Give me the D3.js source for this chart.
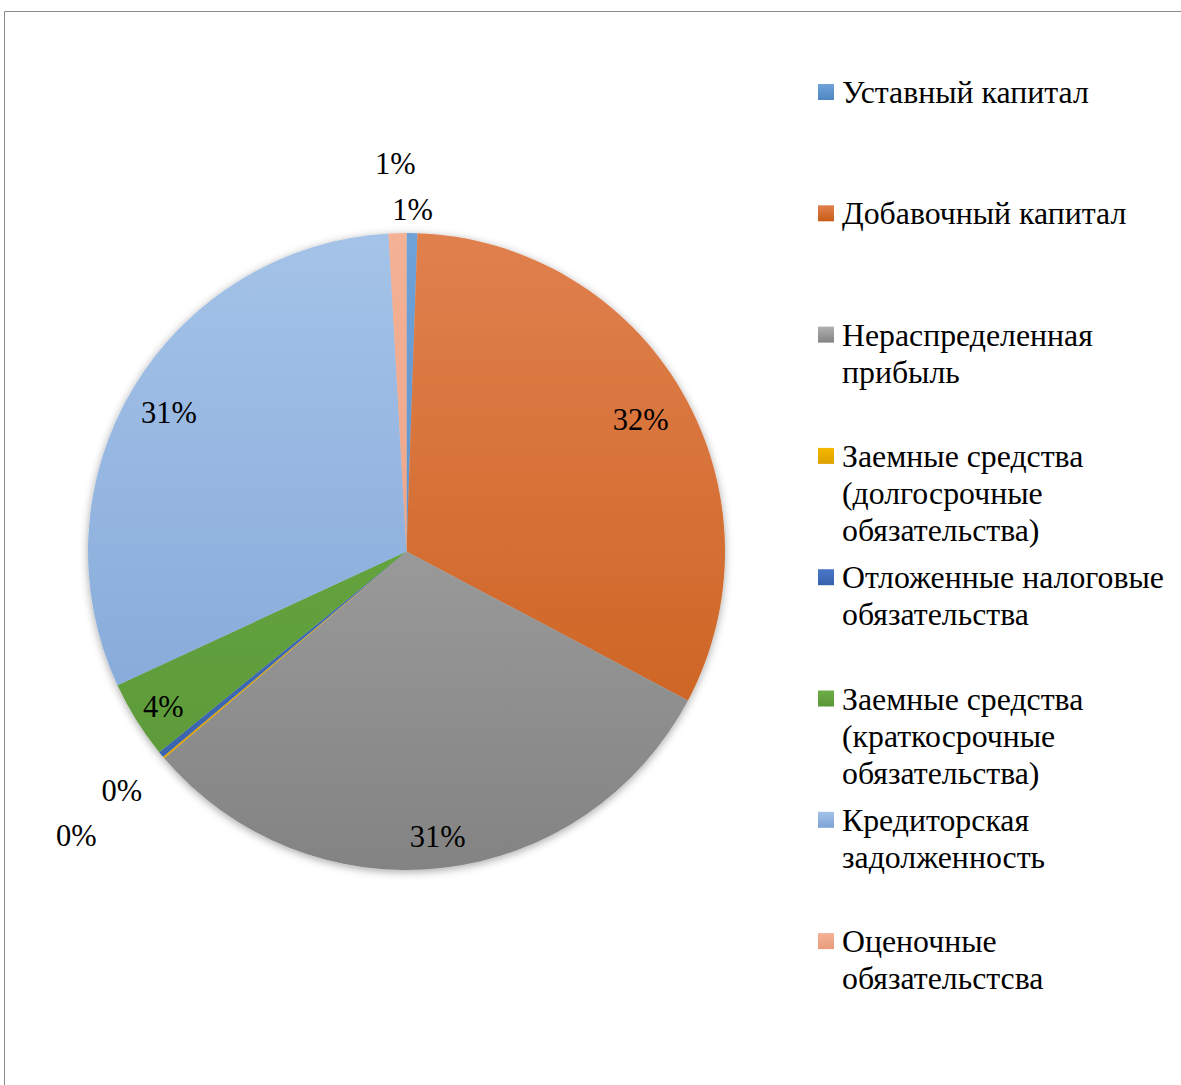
<!DOCTYPE html>
<html>
<head>
<meta charset="utf-8">
<script src="https://cdn.jsdelivr.net/npm/d3@7"></script>
<style>
  html, body { margin: 0; padding: 0; background: #fff; }
  svg { display: block; }
</style>
</head>
<body>
<svg id="chart" width="1181" height="1085"></svg>
<script>
// Structure of liabilities, shares in percent
const categories = [
  "Уставный капитал",
  "Добавочный капитал",
  "Нераспределенная прибыль",
  "Заемные средства (долгосрочные обязательства)",
  "Отложенные налоговые обязательства",
  "Заемные средства (краткосрочные обязательства)",
  "Кредиторская задолженность",
  "Оценочные обязательстсва"
];
const values = [0.55, 32.2, 31.0, 0.1, 0.3, 3.95, 31.0, 0.9];
const valueLabels = ["1%", "32%", "31%", "0%", "0%", "4%", "31%", "1%"];

// Legend text split into lines
const legendLines = [
  ["Уставный капитал"],
  ["Добавочный капитал"],
  ["Нераспределенная", "прибыль"],
  ["Заемные средства", "(долгосрочные", "обязательства)"],
  ["Отложенные налоговые", "обязательства"],
  ["Заемные средства", "(краткосрочные", "обязательства)"],
  ["Кредиторская", "задолженность"],
  ["Оценочные", "обязательстсва"]
];

// slice fills: gradient from top colour to bottom colour
const topColors    = ["#6FA2D8", "#E0804E", "#B0B0B0", "#F5B800", "#4A78C8", "#6EAD48", "#A5C3E8", "#F4B195"];
const bottomColors = ["#4F86C0", "#C85C17", "#838383", "#DDA000", "#3760AA", "#5A9736", "#7CA2D5", "#E99C7C"];
// radial distance of each value label, as a fraction of the pie radius
const labelRadius = [1.085, 0.85, 0.89, 1.36, 1.16, 0.9, 0.87, 1.23];

const svg = d3.select("#chart");
const W = 1181, H = 1085;
const cx = 406.5, cy = 551.5, R = 318.5;
const font = "'Liberation Serif', 'Times New Roman', serif";

// chart frame
svg.append("path")
  .attr("d", `M4.5,${H + 2} L4.5,11.5 L${W + 2},11.5`)
  .attr("fill", "none")
  .attr("stroke", "#8a8a8a")
  .attr("stroke-width", 1);

const defs = svg.append("defs");
const shadow = defs.append("filter").attr("id", "pieShadow")
  .attr("x", "-10%").attr("y", "-10%").attr("width", "120%").attr("height", "120%");
shadow.append("feDropShadow")
  .attr("dx", 0).attr("dy", 2).attr("stdDeviation", 4)
  .attr("flood-color", "#000").attr("flood-opacity", 0.35);

topColors.forEach((c, i) => {
  // pie slices: gradient spans the whole pie height (pie group space)
  const g = defs.append("linearGradient")
    .attr("id", "grad" + i)
    .attr("gradientUnits", "userSpaceOnUse")
    .attr("x1", 0).attr("y1", -R).attr("x2", 0).attr("y2", R);
  g.append("stop").attr("offset", "0%").attr("stop-color", c);
  g.append("stop").attr("offset", "100%").attr("stop-color", bottomColors[i]);

  // legend swatches
  const lg = defs.append("linearGradient")
    .attr("id", "lgrad" + i)
    .attr("x1", 0).attr("y1", 0).attr("x2", 0).attr("y2", 1);
  lg.append("stop").attr("offset", "0%").attr("stop-color", c);
  lg.append("stop").attr("offset", "100%").attr("stop-color", bottomColors[i]);
});

const pie = d3.pie().sort(null).value(d => d);
const arcs = pie(values);
const arc = d3.arc().innerRadius(0).outerRadius(R);

const gPie = svg.append("g").attr("transform", `translate(${cx},${cy})`);
gPie.append("g").attr("filter", "url(#pieShadow)")
  .selectAll("path")
  .data(arcs)
  .join("path")
  .attr("d", arc)
  .attr("fill", (d, i) => `url(#grad${i})`);

// value labels
gPie.selectAll("text.val")
  .data(arcs)
  .join("text")
  .attr("class", "val")
  .attr("x", (d, i) => Math.sin((d.startAngle + d.endAngle) / 2) * R * labelRadius[i])
  .attr("y", (d, i) => -Math.cos((d.startAngle + d.endAngle) / 2) * R * labelRadius[i])
  .attr("dy", "0.45em")
  .attr("text-anchor", "middle")
  .attr("font-family", font)
  .attr("font-size", 30.5)
  .attr("fill", "#000")
  .text((d, i) => valueLabels[i]);

// legend
const legendX = 818, legendTop = 103, legendStep = 121.3, lineH = 37;
const gLeg = svg.append("g");
const items = gLeg.selectAll("g.item")
  .data(categories)
  .join("g")
  .attr("class", "item")
  .attr("transform", (d, i) => `translate(${legendX},${legendTop + i * legendStep})`);

items.append("rect")
  .attr("x", 0).attr("y", -19)
  .attr("width", 16).attr("height", 16)
  .attr("fill", (d, i) => `url(#lgrad${i})`);

items.append("text")
  .attr("font-family", font)
  .attr("font-size", 31.8)
  .attr("fill", "#000")
  .selectAll("tspan")
  .data((d, i) => legendLines[i])
  .join("tspan")
  .attr("x", 24)
  .attr("y", (d, j) => j * lineH)
  .text(d => d);
</script>
</body>
</html>
